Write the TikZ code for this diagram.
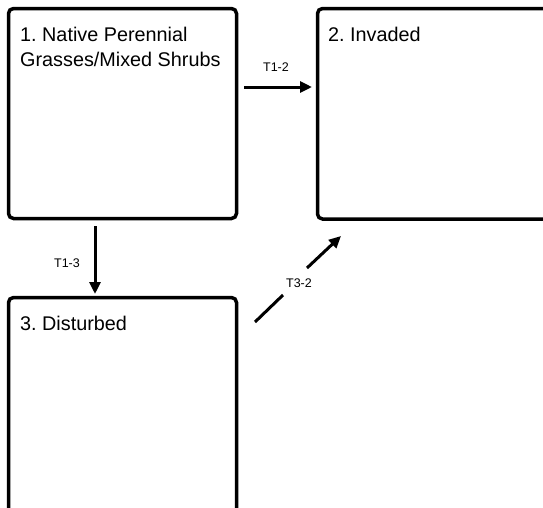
\documentclass[tikz,border=0pt]{standalone}
\usepackage{fontspec}
\setmainfont{Liberation Sans}
\usetikzlibrary{arrows.meta}
\begin{document}
\frenchspacing
\begin{tikzpicture}[x=1pt,y=-1pt,
  statebox/.style={draw,line width=3.5pt,rounded corners=5pt,inner sep=0pt,outer sep=0pt},
  boxlabel/.style={anchor=north west,inner sep=0pt,font=\fontsize{19.8}{25}\selectfont,align=left},
  trans/.style={line width=3pt,-{Triangle[length=12pt,width=11pt]}},
  translabel/.style={inner xsep=2pt,inner ysep=2pt,font=\fontsize{12.5}{15}\selectfont}]
\path[use as bounding box] (0,0) rectangle (543,507);
\clip (0,0) rectangle (543,507);
% state boxes
\node[statebox,minimum width=228pt,minimum height=210pt] (b1) at (122.5,113.5) {};
\node[statebox,minimum width=242.5pt,minimum height=210.5pt] (b2) at (438.75,113.75) {};
\node[statebox,minimum width=228pt,minimum height=232.5pt] (b3) at (122.5,413.75) {};
% box labels
\node[boxlabel] (l1) at (20,27) {1. Native Perennial\\Grasses/Mixed Shrubs};
\node[boxlabel] (l2) at (328,27) {2. Invaded};
\node[boxlabel] (l3) at (20,316) {3. Disturbed};
% transition arrow end points
\coordinate (t12s) at (244,87);
\coordinate (t12e) at (312,87);
\coordinate (t13s) at (95,226);
\coordinate (t13e) at (95,294);
\coordinate (t32s) at (255,322);
\coordinate (t32e) at (341,236);
\coordinate (t32a) at (283,295);
\coordinate (t32b) at (307,268);
% transitions
\draw[trans] (t12s) -- (t12e);
\node[translabel] (lt12) at (276,67.5) {T1-2};
\draw[trans] (t13s) -- (t13e);
\node[translabel] (lt13) at (67,263) {T1-3};
\draw[line width=3pt] (t32s) -- (t32a);
\draw[trans] (t32b) -- (t32e);
\node[translabel] (lt32) at (299,283) {T3-2};
\end{tikzpicture}
\end{document}
